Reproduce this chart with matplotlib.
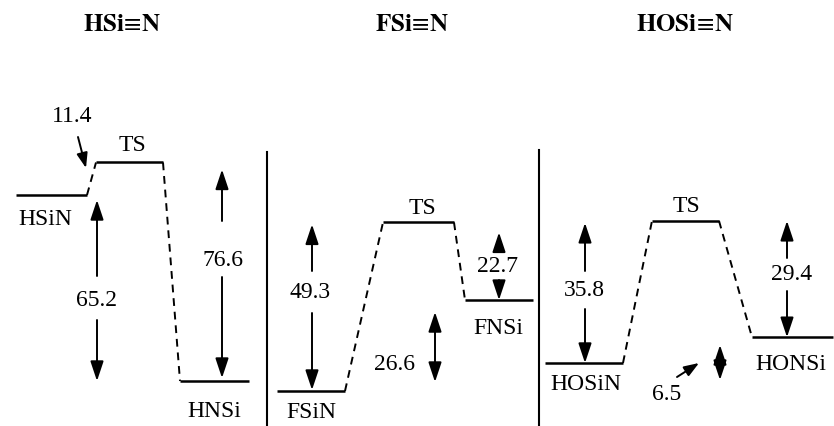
import matplotlib
matplotlib.use('Agg')
import matplotlib.pyplot as plt
from matplotlib.transforms import offset_copy

# ---------------- data (kcal/mol, relative to XSi≡N) ----------------
titles = [r'$\mathbf{HSi}\!\equiv\!\mathbf{N}$', r'$\mathbf{FSi}\!\equiv\!\mathbf{N}$',
          r'$\mathbf{HOSi}\!\equiv\!\mathbf{N}$']
species_hsin = ['HSiN', 'TS', 'HNSi']
species_fsin = ['FSiN', 'TS', 'FNSi']
species_hosin = ['HOSiN', 'TS', 'HONSi']
energy_hsin = [0.0, 11.4, -65.2]
energy_fsin = [0.0, 49.3, 26.6]
energy_hosin = [0.0, 35.8, 6.5]
barrier_fwd = [11.4, 49.3, 35.8]
barrier_rev = [76.6, 22.7, 29.4]
reaction = [65.2, 26.6, 6.5]

# ---------------- layout (pixels) ----------------
W, H = 834, 426
FONT = ['Liberation Serif', 'DejaVu Serif']
plt.rcParams['font.family'] = FONT
plt.rcParams['mathtext.fontset'] = 'stix'
FS = 17
LW_LEVEL = 1.8
LW_ARR = 1.4

fig = plt.figure(figsize=(W / 100, H / 100), dpi=100)
canvas = fig.add_axes([0, 0, 1, 1])
canvas.set_xlim(0, W)
canvas.set_ylim(H, 0)
canvas.axis('off')

panels = [
    dict(title=titles[0], names=species_hsin, E=energy_hsin,
         xs=[(16, 87), (96, 163), (180, 249)], anchor=195, scale=2.853,
         title_x=122,
         name_off=[(-6, -25), (3, 17), (0, -30)]),
    dict(title=titles[1], names=species_fsin, E=energy_fsin,
         xs=[(277, 345), (383, 454), (465, 533)], anchor=391, scale=3.42,
         title_x=412,
         name_off=[(0, -22), (4, 14), (-1, -28)]),
    dict(title=titles[2], names=species_hosin, E=energy_hosin,
         xs=[(545, 623), (652, 719), (752, 833)], anchor=363, scale=3.97,
         title_x=685,
         name_off=[(2, -22), (1, 14), (-2, -27)]),
]

axes = []
for p in panels:
    ax = fig.add_axes([0, 0, 1, 1])
    ax.set_xlim(0, W)
    E0 = p['E'][0]
    ax.set_ylim(E0 - (H - p['anchor']) / p['scale'], E0 + p['anchor'] / p['scale'])
    ax.axis('off')
    ax.patch.set_alpha(0)
    axes.append(ax)
    E = p['E']
    xs = p['xs']
    for i in range(3):
        ax.plot(xs[i], [E[i], E[i]], color='black', lw=LW_LEVEL, solid_capstyle='butt')
        cx = 0.5 * (xs[i][0] + xs[i][1])
        ax.annotate(p['names'][i], xy=(cx, E[i]), xytext=p['name_off'][i],
                    textcoords='offset pixels', ha='center', va='center',
                    fontsize=FS)
    for i in range(2):
        ax.plot([xs[i][1], xs[i + 1][0]], [E[i], E[i + 1]], color='black',
                lw=1.4, ls=(0, (4, 3)))
    canvas.text(p['title_x'], 25, p['title'], ha='center', va='center',
                fontsize=18)

# dividers
canvas.plot([267, 267], [152, H], color='black', lw=1.5)
canvas.plot([539, 539], [150, H], color='black', lw=1.5)

big = dict(arrowstyle='-|>,head_length=1.2,head_width=0.4', color='black',
           lw=LW_ARR, mutation_scale=10)
dbl = dict(big, arrowstyle='<|-|>,head_length=1.2,head_width=0.4')
small = dict(arrowstyle='-|>,head_length=0.9,head_width=0.33', color='black',
             lw=LW_ARR, mutation_scale=10)


def arrow(ax, x, start_px, e_tip, gap_px=0.0):
    props = dict(big, shrinkA=0, shrinkB=gap_px * 0.72)
    ax.annotate('', xy=(x, e_tip), xycoords='data',
                xytext=(x, start_px), textcoords=canvas.transData,
                arrowprops=props)


def label(x, y, val):
    canvas.text(x, y, f'{val:.1f}', ha='center', va='center', fontsize=FS)


a1, a2, a3 = axes

# ---- panel 1: HSi≡N ----
E = energy_hsin
arrow(a1, 97, 276, E[0], 5)
arrow(a1, 97, 320, E[2], 0)
label(97, 300, reaction[0])
arrow(a1, 222, 221, E[1], 7)
arrow(a1, 222, 277, E[2], 3)
label(223, 260, barrier_rev[0])
label(72, 117, barrier_fwd[0])
canvas.annotate('', xy=(86, 168), xytext=(78, 137),
                arrowprops=dict(small, shrinkA=0, shrinkB=0))

# ---- panel 2: FSi≡N ----
E = energy_fsin
arrow(a2, 312, 271, E[1], 2)
arrow(a2, 312, 313, E[0], 1)
label(310, 293, barrier_fwd[1])
arrow(a2, 499, 250, E[1], 10)
arrow(a2, 499, 280, E[2], 0)
label(498, 267, barrier_rev[1])
a2.annotate('', xy=(435, E[0]), xytext=(435, E[2]),
            arrowprops=dict(dbl, shrinkA=12 * 0.72, shrinkB=9 * 0.72))
label(395, 364, reaction[1])

# ---- panel 3: HOSi≡N ----
E = energy_hosin
arrow(a3, 585, 271, E[1], 2)
arrow(a3, 585, 309, E[0], 0)
label(584, 290, barrier_fwd[2])
arrow(a3, 787, 258, E[1], 0)
arrow(a3, 787, 291, E[2], 0)
label(792, 274, barrier_rev[2])
up_t = offset_copy(a3.transData, fig=fig, x=0, y=18, units='dots')
dn_t = offset_copy(a3.transData, fig=fig, x=0, y=-17, units='dots')
a3.annotate('', xy=(720, E[0]), xycoords=up_t, xytext=(720, E[0]), textcoords=dn_t,
            arrowprops=dict(dbl, shrinkA=0, shrinkB=0))
label(667, 394, reaction[2])
canvas.annotate('', xy=(699, 363), xytext=(677, 377),
                arrowprops=dict(small, shrinkA=0, shrinkB=0))

fig.savefig('out.png', dpi=100)
